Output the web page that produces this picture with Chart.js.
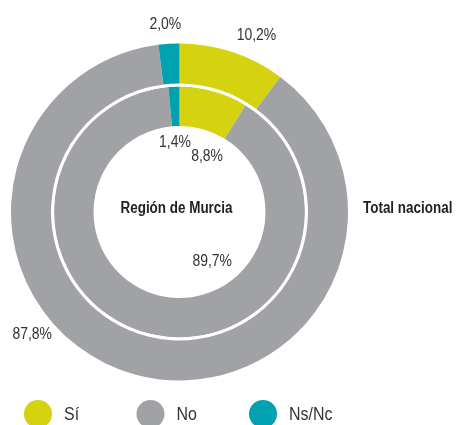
<!DOCTYPE html>
<html>
<head>
<meta charset="utf-8">
<script src="https://cdn.jsdelivr.net/npm/chart.js@4.4.1/dist/chart.umd.min.js"></script>
<style>
  html, body { margin: 0; padding: 0; background: #fff; }
  #wrap { width: 456px; height: 425px; position: relative; }
</style>
</head>
<body>
<div id="wrap"><canvas id="chart" width="456" height="425"></canvas></div>
<script>
// data
const categories = ['Sí', 'No', 'Ns/Nc'];
const totalNacional = [10.2, 87.8, 2.0];
const regionMurcia = [8.8, 89.7, 1.4];
const ringTitles = ['Total nacional', 'Región de Murcia'];

const colors = ['#d5d20f', '#a1a2a5', '#00a1b1'];
const FONT = "'Liberation Sans', Arial, sans-serif";
const TEXT = '#333333';

// label placement per ring: angle shift (deg) from arc middle, radius offset from ring edge
const outerLabelPos = [{ da: 5.2, dr: 24 }, { da: 35.5, dr: 23 }, { da: -0.7, dr: 20 }];
const innerLabelPos = [{ da: 10.5, dr: -24 }, { da: -47, dr: -27 }, { da: -1.2, dr: -16 }];

const fmt = v => v.toFixed(1).replace('.', ',') + '%';

// condensed look: squeeze text horizontally
function squeezed(ctx, text, x, y, font, align, sx) {
  ctx.save();
  ctx.font = font;
  ctx.textAlign = align;
  ctx.textBaseline = 'middle';
  ctx.translate(x, y);
  ctx.scale(sx, 1);
  ctx.fillText(text, 0, 0);
  ctx.restore();
}

const labelsPlugin = {
  id: 'pctLabels',
  afterDatasetsDraw(chart) {
    const ctx = chart.ctx;
    ctx.save();
    ctx.fillStyle = TEXT;

    const rings = [
      { meta: chart.getDatasetMeta(0), values: totalNacional, pos: outerLabelPos, outer: true },
      { meta: chart.getDatasetMeta(2), values: regionMurcia, pos: innerLabelPos, outer: false }
    ];
    rings.forEach(ring => {
      ring.meta.data.forEach((arc, i) => {
        const p = ring.pos[i];
        const mid = (arc.startAngle + arc.endAngle) / 2 + p.da * Math.PI / 180;
        const r = (ring.outer ? arc.outerRadius : arc.innerRadius) + p.dr;
        squeezed(ctx, fmt(ring.values[i]), arc.x + Math.cos(mid) * r, arc.y + Math.sin(mid) * r,
          '17px ' + FONT, 'center', 0.82);
      });
    });

    // ring titles
    const a = chart.getDatasetMeta(0).data[0];
    ctx.fillStyle = '#222222';
    squeezed(ctx, ringTitles[1], a.x - 3, a.y - 3, 'bold 16px ' + FONT, 'center', 0.84);
    squeezed(ctx, ringTitles[0], a.x + a.outerRadius + 15, a.y - 3, 'bold 16px ' + FONT, 'left', 0.84);

    // legend
    const ly = chart.height - 11;
    const pitch = 112.5;
    categories.forEach((c, i) => {
      const x0 = 24 + i * pitch;
      ctx.beginPath();
      ctx.fillStyle = colors[i];
      ctx.arc(x0 + 14, ly, 14, 0, Math.PI * 2);
      ctx.fill();
      ctx.fillStyle = TEXT;
      squeezed(ctx, c, x0 + 40, ly + 1, '19px ' + FONT, 'left', 0.84);
    });
    ctx.restore();
  }
};

new Chart(document.getElementById('chart'), {
  type: 'doughnut',
  data: {
    labels: categories,
    datasets: [
      { label: ringTitles[0], data: totalNacional, backgroundColor: colors, borderWidth: 0, weight: 40 },
      { label: 'gap', data: [1], backgroundColor: ['#ffffff'], borderWidth: 0, weight: 3 },
      { label: ringTitles[1], data: regionMurcia, backgroundColor: colors, borderWidth: 0, weight: 39.5 }
    ]
  },
  options: {
    responsive: false,
    animation: false,
    cutout: 86,
    layout: { padding: { left: 11, right: 108, top: 43, bottom: 44 } },
    plugins: {
      legend: { display: false },
      tooltip: { enabled: false }
    }
  },
  plugins: [labelsPlugin]
});
</script>
</body>
</html>
